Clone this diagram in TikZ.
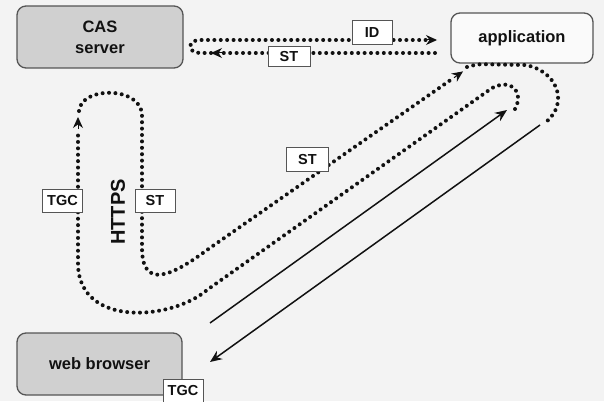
\documentclass[tikz,border=0pt]{standalone}
\usepackage{fontspec}
\setmainfont{Liberation Sans}
\usetikzlibrary{arrows.meta}
\definecolor{bg}{HTML}{F3F3F3}
\definecolor{boxgray}{HTML}{D0D0D0}
\definecolor{ink}{HTML}{111111}
\definecolor{edge}{HTML}{555555}
\begin{document}
\begin{tikzpicture}[x=1pt,y=-1pt,
  box/.style={draw=edge, line width=1.3pt, rounded corners=9pt, inner sep=0pt,
    font=\fontsize{16.5}{21}\selectfont\bfseries, text=ink, align=center},
  tag/.style={draw=edge, line width=1pt, fill=white, inner sep=0pt,
    minimum width=40pt, minimum height=23pt,
    font=\fontsize{14.5}{17}\selectfont\bfseries, text=ink},
  dotline/.style={draw=ink, line width=4pt, line cap=round, dash pattern=on 0pt off 6.4pt},
  solidline/.style={draw=ink, line width=1.5pt, -{Stealth[length=12pt,width=10pt]}},
  tipmark/.style={draw=ink, line width=1pt, -{Stealth[length=11pt,width=10pt]}},
]
\fill[bg] (0,0) rectangle (604,401);
\useasboundingbox (0,0) rectangle (604,401);

% boxes
\node[box, fill=boxgray, minimum width=166pt, minimum height=62pt] (cas) at (100,37) {CAS\\server};
\node[box, fill=white!60!bg, minimum width=142pt, minimum height=50pt] (app) at (522,38) {application};
\node[box, fill=boxgray, minimum width=165pt, minimum height=62pt] (web) at (99.5,364) {web browser};

% waypoints
\coordinate (topR1) at (435,53);
\coordinate (topR2) at (426,40);
\coordinate (innerStart) at (515,109);
\coordinate (leftUp) at (78,130);
\coordinate (arcStart) at (79,111);
\coordinate (diagEnd) at (452,79);
\coordinate (outStart) at (467,67);
\coordinate (outEnd) at (546,122);
\coordinate (s1a) at (210,323);
\coordinate (s1b) at (507,110);
\coordinate (s2a) at (540,125);
\coordinate (s2b) at (210,362);

% top exchange between application and CAS server
\draw[dotline] (topR1) -- (200,53) .. controls (187,53) and (187,40) .. (200,40) -- (topR2);
\draw[tipmark] (426,40) -- (437,40);
\draw[tipmark] (223,53) -- (211,53);

% browser -> application (solid), then dotted loop back to CAS
\draw[solidline] (s1a) -- (s1b);
\draw[dotline] (innerStart) .. controls (524,92) and (512,78) .. (492,88)
  -- (207,290) .. controls (172,320) and (80,328) .. (78,265) -- (leftUp);
\draw[tipmark] (78,129) -- (78,117);

% CAS -> back down -> application
\draw[dotline] (arcStart) .. controls (81,86) and (141,86) .. (142,115)
  -- (142,248) .. controls (142,290) and (172,276) .. (207,250) -- (diagEnd);
\draw[tipmark] (454,77.7) -- (463,71.4);

% application -> browser
\draw[dotline] (outStart) .. controls (478,64) .. (495,64.5) -- (525,65)
  .. controls (556,70) and (570,102) .. (outEnd);
\draw[solidline] (s2a) -- (s2b);

% labels
\node[rotate=90, font=\fontsize{20}{24}\selectfont\bfseries, text=ink] (https) at (118,212) {HTTPS};
\node[tag] (tgcl) at (62.5,200.5) {TGC};
\node[tag] (stl) at (155,200.5) {ST};
\node[tag, minimum width=42pt, minimum height=24pt] (stm) at (307.5,159.5) {ST};
\node[tag, minimum height=24pt] (id) at (372,33) {ID};
\node[tag, minimum width=42pt, minimum height=20pt] (stt) at (289,56.5) {ST};
\node[tag] (tgcb) at (183,390.5) {TGC};
\end{tikzpicture}
\end{document}
